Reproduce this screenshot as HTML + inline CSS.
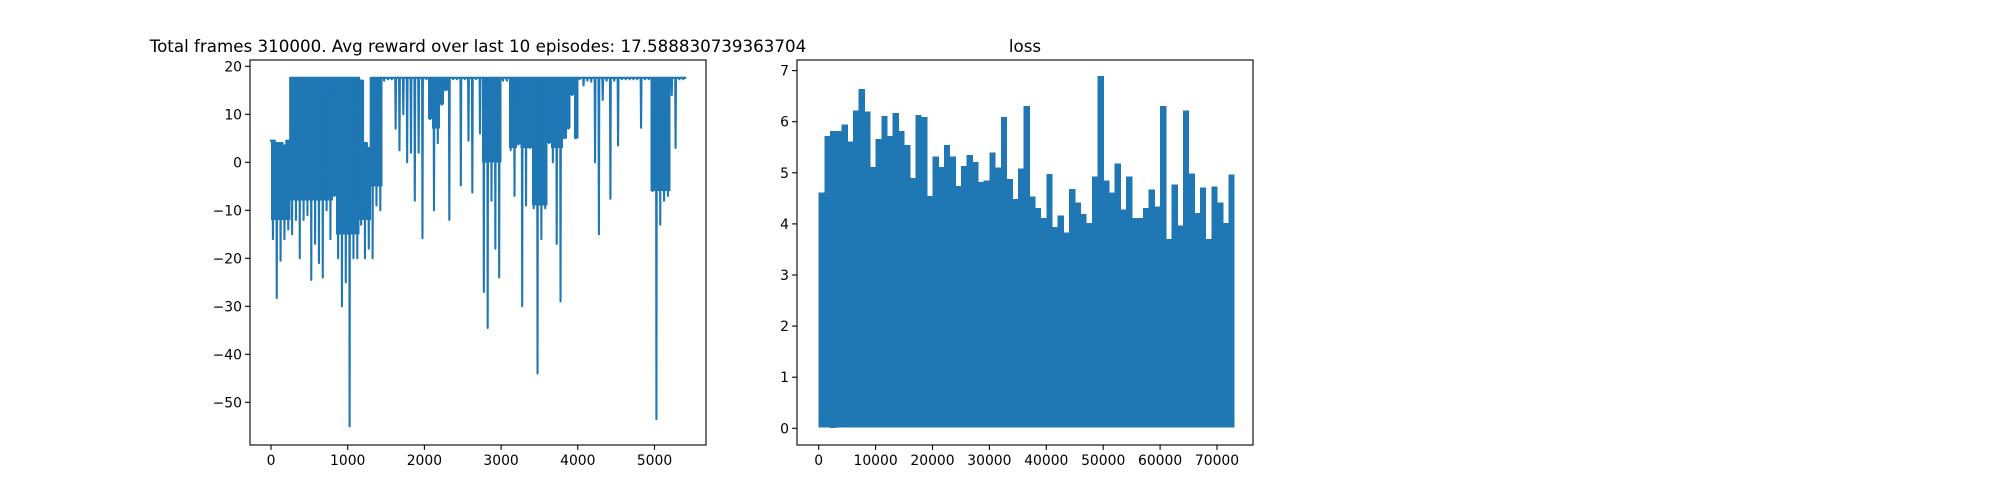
<!DOCTYPE html>
<html><head><meta charset="utf-8"><style>
html,body{margin:0;padding:0;background:#fff;}
svg{display:block;font-family:"DejaVu Sans","Liberation Sans",sans-serif;}
</style></head><body>
<svg id="fig" width="2000" height="500" viewBox="0 0 2000 500" xmlns="http://www.w3.org/2000/svg">
<rect width="2000" height="500" fill="#fff"/>
<g id="left"></g>
<g id="right"></g>
</svg>
<script>
// Reward chart data: per 50-episode bin, max and min of the episode reward
const rewardBinSize = 50;
const rewardHi = [4.5,4,4,3.5,4.5,17.6,17.6,17.6,17.6,17.6,17.6,17.6,17.6,17.6,17.6,17.6,17.6,17.6,17.6,17.6,17.6,17.6,17.6,17,4,3,17.6,17.6,17.6,17.6,17.6,17.6,17.6,17.6,17.6,17.6,17.6,17.6,17.6,17.6,17.6,17.6,17.6,17.6,17.6,17.6,17.6,17.6,17.6,17.6,17.6,17.6,17.6,17.6,17.6,17.6,17.6,17.6,17.6,17.6,17.6,17.6,17.6,17.6,17.6,17.6,17.6,17.6,17.6,17.6,17.6,17.6,17.6,17.6,17.6,17.6,17.6,17.6,17.6,17.6,17.6,17.6,17.6,17.6,17.6,17.6,17.6,17.6,17.6,17.6,17.6,17.6,17.6,17.6,17.6,17.6,17.6,17.6,17.6,17.6,17.6,17.6,17.6,17.6,17.6,17.6,17.6,17.6];
const rewardLo = [-16,-28.3,-20.5,-16,-14,-15,-12,-20,-12,-11,-24.5,-17,-21,-24,-10,-16,-7,-20,-30,-25,-55,-20,-20,-13,-20,-18,-20,-9,-10,17,17.3,17.3,7,2.5,10,0,2,-8,2,-15.8,17.3,9,-10,4,12,15,-12,17.3,17.3,-4.8,17.3,4.5,-6.3,17.3,6,-27,-34.5,-8,-18,-24,17,17,2.5,-7,3.7,-30,-9,3,-9.6,-44,-16,-9.6,4,0,-17,-29,5,7,14,5,17.3,16,17,16.8,0,-15,13,17,-7.6,17,3.5,17.3,17.3,17.3,17.3,17.3,7.2,17.3,17.3,-6,-53.5,-13,-8,-7,14,3,17.3,17.3];
// Lower edge of the densely-filled band in each bin (equals the max where the curve is sparse)
const rewardBandLo = [-12,-12,-12,-12,-12,-8,-8,-8,-8,-8,-8,-8,-8,-8,-8,-8,-8,-15,-15,-15,-15,-15,-15,-12,-12,-12,-5,-5,-5,17.6,17.6,17.6,17.6,17.6,17.6,17.6,17.6,17.6,17.6,17.6,17.6,7,7,7,7,7,17.6,17.6,17.6,17.6,17.6,17.6,17.6,17.6,17.6,0,0,0,0,0,17.6,17.6,3,3,3,3,3,3,-9,-9,-9,-9,3,3,3,3,3,3,3,3,17.6,17.6,17.6,17.6,17.6,17.6,17.6,17.6,17.6,17.6,17.6,17.6,17.6,17.6,17.6,17.6,17.6,17.6,17.6,-6,-6,-6,-6,-6,17.6,17.6,17.6,17.6];
const rewardYTicks = [20,10,0,-10,-20,-30,-40,-50];
const rewardXTicks = [0,1000,2000,3000,4000,5000];
// Loss chart data: per 1000-step bin, max and min of the loss
const lossBinSize = 1000;
const lossHi = [4.6,5.7,5.8,5.8,5.93,5.6,6.2,6.62,6.18,5.1,5.65,6.1,5.7,6.15,5.8,5.53,4.88,6.12,6.08,4.53,5.3,5.1,5.53,5.3,4.73,5.12,5.33,5.2,4.8,4.83,5.38,5.09,6.08,4.86,4.47,5.07,6.29,4.52,4.3,4.1,4.96,3.92,4.15,3.82,4.67,4.4,4.18,4.0,4.91,6.88,4.83,4.6,5.17,4.27,4.91,4.1,4.1,4.3,4.66,4.32,6.29,3.69,4.76,3.95,6.2,4.97,4.2,4.7,3.69,4.72,4.4,4.0,4.95];
const lossLo = [0.03,0.03,0.02,0.03,0.03,0.03,0.03,0.03,0.03,0.03,0.03,0.03,0.03,0.03,0.03,0.03,0.03,0.03,0.03,0.03,0.03,0.03,0.03,0.03,0.03,0.03,0.03,0.03,0.03,0.03,0.03,0.03,0.03,0.03,0.03,0.03,0.03,0.03,0.03,0.03,0.03,0.03,0.03,0.03,0.03,0.03,0.03,0.03,0.03,0.03,0.03,0.03,0.03,0.03,0.03,0.03,0.03,0.03,0.03,0.03,0.03,0.03,0.03,0.03,0.03,0.03,0.03,0.03,0.03,0.03,0.03,0.03,0.03];
const lossYTicks = [0,1,2,3,4,5,6,7];
const lossXTicks = [0,10000,20000,30000,40000,50000,60000,70000];

const NS = "http://www.w3.org/2000/svg";
function mk(parent, tag, attrs){ const e=document.createElementNS(NS,tag); for(const k in attrs) e.setAttribute(k,attrs[k]); parent.appendChild(e); return e; }
const BLUE="#1f77b4";

function drawFrame(g, o){
  const {L,R,T,B,x,y,xt,yt,title,titleName} = o;
  const fr=mk(g,'rect',{x:L,y:T,width:R-L,height:B-T,fill:'none',stroke:'#000','stroke-width':1.1});
  
  
  yt.forEach(v=>{
    const yy=y(v);
    const t=mk(g,'line',{x1:L-4.9,x2:L,y1:yy,y2:yy,stroke:'#000','stroke-width':1.1});
    
    
    const tx=mk(g,'text',{x:L-8,y:yy+5,'text-anchor':'end','font-size':13.9,fill:'#000'});
    tx.textContent=(v<0?'\u2212'+(-v):''+v);
    
    
  });
  xt.forEach(v=>{
    const xx=x(v);
    const t=mk(g,'line',{x1:xx,x2:xx,y1:B,y2:B+4.9,stroke:'#000','stroke-width':1.1});
    
    
    const tx=mk(g,'text',{x:xx,y:B+20,'text-anchor':'middle','font-size':13.9,fill:'#000'});
    tx.textContent=''+v;
    
    
  });
  const tt=mk(g,'text',{x:(L+R)/2,y:T-8,'text-anchor':'middle','font-size':16.7,fill:'#000'});
  tt.textContent=title;
  
  
}

// Reward: dense band fill + line with vertical spikes through each bin's max and min
(function(){
  const g=document.getElementById('left');
  const x=v=>271+v*0.0767, y=v=>162.3-v*4.8;
  for(let i=0;i<rewardHi.length;i++){
    const band=Math.max(rewardBandLo[i],rewardLo[i]);
    if(band<rewardHi[i]-0.5){
      const x0=x(i*rewardBinSize), x1=x((i+1)*rewardBinSize);
      const r=mk(g,'rect',{x:x0,y:y(rewardHi[i]),width:x1-x0+0.5,height:y(band)-y(rewardHi[i]),fill:BLUE,'shape-rendering':'crispEdges'});
      
      
    }
  }
  const pts=[];
  for(let i=0;i<rewardHi.length;i++){
    const x0=x(i*rewardBinSize), x1=x((i+1)*rewardBinSize), xc=(x0+x1)/2;
    const yh=y(rewardHi[i]).toFixed(2), yl=y(rewardLo[i]).toFixed(2);
    pts.push(x0.toFixed(2)+','+yh);
    pts.push((xc-0.4).toFixed(2)+','+yh);
    pts.push(xc.toFixed(2)+','+yl);
    pts.push((xc+0.4).toFixed(2)+','+yh);
    pts.push(x1.toFixed(2)+','+yh);
  }
  const pl=mk(g,'polyline',{points:pts.join(' '),fill:'none',stroke:BLUE,'stroke-width':2.1,'stroke-linejoin':'round','stroke-linecap':'square'});
  
  
  drawFrame(g,{L:250,R:706,T:60,B:445,x,y,xt:rewardXTicks,yt:rewardYTicks,
    title:'Total frames 310000. Avg reward over last 10 episodes: 17.588830739363704',titleName:'reward-title'});
})();

// Loss: dense oscillation rendered as filled bin envelopes
(function(){
  const g=document.getElementById('right');
  const x=v=>818.7+v*0.00569, y=v=>428.3-v*51.1;
  for(let i=0;i<lossHi.length;i++){
    const x0=x(i*lossBinSize), x1=x((i+1)*lossBinSize);
    const r=mk(g,'rect',{x:x0,y:y(lossHi[i])-0.8,width:x1-x0+0.6,height:y(lossLo[i])-y(lossHi[i])+1.6,fill:BLUE,'shape-rendering':'crispEdges'});
    
    
  }
  drawFrame(g,{L:797,R:1253,T:60,B:445,x,y,xt:lossXTicks,yt:lossYTicks,title:'loss',titleName:'loss-title'});
})();
</script>
</body></html>
